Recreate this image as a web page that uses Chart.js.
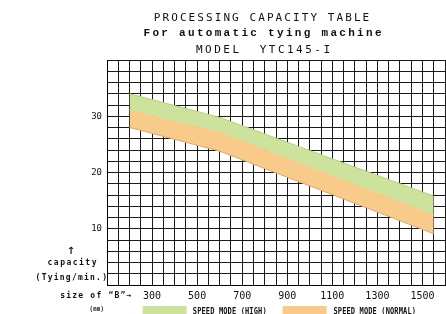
<!DOCTYPE html>
<html><head><meta charset="utf-8">
<script src="https://cdn.jsdelivr.net/npm/chart.js@4"></script>
<style>html,body{margin:0;padding:0;background:#fff}#wrap{width:446px;height:314px}</style>
</head><body><div id="wrap"><canvas id="c" width="446" height="314"></canvas></div>
<script>
// ---- data ----
const sizesB = [200, 600, 1550];              // size of "B" (mm)
const normalModeBottom = [28, 23.8, 9.1];     // capacity (Tying/min.)
const normalModeTop    = [31, 27.1, 12.4];
const highModeTop      = [34, 29.8, 15.8];
const xTickLabels = [300, 500, 700, 900, 1100, 1300, 1500];
const yTickLabels = [10, 20, 30];
const titleLines = ['PROCESSING CAPACITY TABLE', 'For automatic tying machine', 'MODEL  YTC145-I'];
const seriesNames = ['SPEED MODE (HIGH)', 'SPEED MODE (NORMAL)'];

const GREEN = '#cde29c', ORANGE = '#f9cb8a';
const pts = arr => sizesB.map((x, i) => ({x: x, y: arr[i]}));

function spaced(ctx, text, cx, y, adv, font, scaleX) {
  ctx.save();
  ctx.font = font;
  ctx.textAlign = 'center';
  ctx.textBaseline = 'alphabetic';
  ctx.fillStyle = '#111';
  const n = text.length;
  const x0 = cx - (n - 1) / 2 * adv;
  for (let i = 0; i < n; i++) {
    const ch = text[i];
    if (ch === ' ') continue;
    const x = x0 + i * adv;
    if (scaleX && scaleX !== 1) {
      ctx.save(); ctx.translate(x, y); ctx.scale(scaleX, 1); ctx.fillText(ch, 0, 0); ctx.restore();
    } else ctx.fillText(ch, x, y);
  }
  ctx.restore();
}

const decor = {
  id: 'decor',
  afterDraw(chart) {
    const ctx = chart.ctx;
    spaced(ctx, titleLines[0], 261.5, 20.7, 8.7, '11px "DejaVu Sans Mono"');
    spaced(ctx, titleLines[1], 262.5, 36, 8.9, 'bold 11px "Liberation Mono"');
    spaced(ctx, titleLines[2], 263, 53.3, 9.1, '11px "DejaVu Sans Mono"');
    // axis captions
    spaced(ctx, '\u2191', 71, 254, 6, 'bold 10px "DejaVu Sans"');
    spaced(ctx, 'capacity', 72, 265, 6.3, 'bold 8px "DejaVu Sans Mono"');
    spaced(ctx, '(Tying/min.)', 71.3, 280, 6.05, 'bold 8px "DejaVu Sans Mono"');
    spaced(ctx, 'size of \u201CB\u201D\u2192', 95.8, 298, 6.04, 'bold 8px "DejaVu Sans Mono"');
    spaced(ctx, '(mm)', 96.7, 311, 3.7, 'bold 7px "DejaVu Sans Mono"', 0.8);
    // legend
    ctx.save();
    ctx.fillStyle = GREEN; ctx.fillRect(142.7, 306, 44, 10);
    ctx.fillStyle = ORANGE; ctx.fillRect(282.7, 306, 44, 10);
    ctx.restore();
    spaced(ctx, seriesNames[0], 229.7, 314, 4.35, 'bold 9px "DejaVu Sans Mono"', 0.78);
    spaced(ctx, seriesNames[1], 374.7, 314, 4.35, 'bold 9px "DejaVu Sans Mono"', 0.78);
  }
};

new Chart(document.getElementById('c'), {
  type: 'line',
  data: {
    datasets: [
      { label: 'normal-bottom', data: pts(normalModeBottom), borderColor: '#d9a870', borderWidth: 1, fill: false, pointRadius: 0, tension: 0 },
      { label: seriesNames[1], data: pts(normalModeTop), borderColor: ORANGE, borderWidth: 1, backgroundColor: ORANGE, fill: '-1', pointRadius: 0, tension: 0 },
      { label: seriesNames[0], data: pts(highModeTop), borderColor: '#b5cf84', borderWidth: 1, backgroundColor: GREEN, fill: '-1', pointRadius: 0, tension: 0 }
    ]
  },
  options: {
    responsive: false,
    animation: false,
    layout: { padding: { top: 60, right: 1, bottom: 0, left: 0 } },
    plugins: { legend: { display: false }, title: { display: false }, tooltip: { enabled: false } },
    scales: {
      x: {
        type: 'linear', min: 100, max: 1600,
        afterFit(s) { s.height = 29; s.paddingLeft = 0; s.paddingRight = 0; },
        grid: { color: 'rgba(0,0,0,0.9)', lineWidth: 1, drawTicks: false },
        border: { color: 'rgba(0,0,0,0.9)' },
        ticks: {
          stepSize: 50, autoSkip: false, maxRotation: 0, padding: 5,
          color: '#111', font: { family: '"DejaVu Sans Mono"', size: 10 },
          callback: v => xTickLabels.includes(v) ? String(v) : ''
        }
      },
      y: {
        type: 'linear', min: 0, max: 40,
        afterFit(s) { s.width = 107; s.paddingTop = 0; s.paddingBottom = 0; },
        grid: { color: 'rgba(0,0,0,0.9)', lineWidth: 1, drawTicks: false },
        border: { color: 'rgba(0,0,0,0.9)' },
        ticks: {
          stepSize: 2, autoSkip: false, padding: 5,
          color: '#111', font: { family: '"DejaVu Sans Mono"', size: 9 },
          callback: v => yTickLabels.includes(v) ? String(v) : ''
        }
      }
    }
  },
  plugins: [decor]
});
</script></body></html>
